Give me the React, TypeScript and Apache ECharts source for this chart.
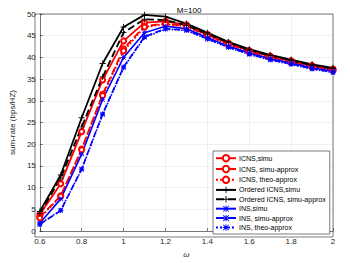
import React, { useEffect, useRef } from "react";
import * as echarts from "echarts";

const omega = [0.6, 0.7, 0.8, 0.9, 1.0, 1.1, 1.2, 1.3, 1.4, 1.5, 1.6, 1.7, 1.8, 1.9, 2.0];

const icnsSimu = [3.8, 10.9, 22.9, 34.8, 43.8, 48.0, 48.3, 47.5, 45.3, 43.3, 41.6, 40.3, 39.2, 38.1, 37.3];
const icnsSimuApprox = [3.2, 8.1, 18.9, 31.5, 42.0, 47.2, 47.8, 47.2, 45.1, 43.1, 41.4, 40.1, 39.0, 37.9, 37.1];
const icnsTheoApprox = [3.0, 8.0, 18.7, 31.2, 41.5, 47.0, 47.7, 47.1, 45.0, 43.0, 41.3, 40.0, 38.9, 37.8, 37.0];
const orderedSimu = [4.5, 12.9, 26.1, 38.6, 47.0, 49.8, 49.4, 47.8, 45.7, 43.6, 41.9, 40.6, 39.5, 38.4, 37.6];
const orderedSimuApprox = [4.0, 12.2, 24.0, 35.5, 45.7, 48.8, 48.6, 47.4, 45.4, 43.4, 41.7, 40.4, 39.3, 38.2, 37.4];
const insSimu = [1.8, 7.4, 17.7, 30.3, 40.0, 45.7, 47.2, 46.6, 44.6, 42.6, 41.0, 39.7, 38.7, 37.6, 36.8];
const insSimuApprox = [1.5, 4.7, 14.3, 27.0, 37.8, 44.8, 46.6, 46.3, 44.3, 42.4, 40.8, 39.5, 38.5, 37.4, 36.6];
const insTheoApprox = [1.6, 4.8, 14.2, 26.8, 37.6, 44.6, 46.5, 46.2, 44.2, 42.3, 40.7, 39.4, 38.4, 37.3, 36.5];

const seriesNames = [
  "ICNS,simu",
  "ICNS, simu-approx",
  "ICNS, theo-approx",
  "Ordered ICNS,simu",
  "Ordered ICNS, simu-approx",
  "INS,simu",
  "INS, simu-approx",
  "INS, theo-approx",
];

const PLUS = "path://M4.3,0h1.4v4.3h4.3v1.4h-4.3v4.3h-1.4v-4.3h-4.3v-1.4h4.3z";
const STAR =
  "path://M4.3,0h1.4v4.3h4.3v1.4h-4.3v4.3h-1.4v-4.3h-4.3v-1.4h4.3z M1.2,0.2L9.8,8.8L8.8,9.8L0.2,1.2Z M8.8,0.2L9.8,1.2L1.2,9.8L0.2,8.8Z";

export default function App() {
  const ref = useRef<HTMLDivElement>(null);
  useEffect(() => {
    if (!ref.current) return;
    const chart = echarts.init(ref.current, undefined, { renderer: "svg" });
    const mk = (
      name: string,
      data: number[],
      color: string,
      type: string,
      symbol: string,
      size: number,
      width: number
    ) => ({
      name,
      type: "line",
      data: omega.map((x, i) => [x, data[i]]),
      symbol,
      symbolSize: size,
      showAllSymbol: true,
      lineStyle: { color, width, type },
      itemStyle: { color, borderColor: color, borderWidth: symbol === "emptyCircle" ? 1.5 : 0 },
    });
    const red = "#ff0000";
    const black = "#000000";
    const blue = "#0000ff";
    const series = [
      mk(seriesNames[0], icnsSimu, red, "solid", "emptyCircle", 5, 1.8),
      mk(seriesNames[1], icnsSimuApprox, red, "dashed", "emptyCircle", 5, 1.8),
      mk(seriesNames[2], icnsTheoApprox, red, "dotted", "emptyCircle", 5, 1.8),
      mk(seriesNames[3], orderedSimu, black, "solid", PLUS, 6, 1.8),
      mk(seriesNames[4], orderedSimuApprox, black, "dashed", PLUS, 6, 1.8),
      mk(seriesNames[5], insSimu, blue, "solid", STAR, 5, 1.6),
      mk(seriesNames[6], insSimuApprox, blue, "dashed", STAR, 5, 1.6),
      mk(seriesNames[7], insTheoApprox, blue, "dotted", STAR, 5, 1.6),
    ];
    const font = "Liberation Sans, Arial, sans-serif";
    chart.setOption({
      animation: false,
      backgroundColor: "#ffffff",
      textStyle: { fontFamily: font },
      title: {
        text: "M=100",
        left: 184,
        top: 1,
        textAlign: "center",
        textStyle: { fontSize: 8, fontWeight: "normal", color: "#000", fontFamily: font },
      },
      grid: { left: 35, right: 17, top: 14, bottom: 26, containLabel: false },
      xAxis: {
        type: "value",
        min: 0.6,
        max: 2,
        interval: 0.2,
        name: "ω",
        nameLocation: "middle",
        nameGap: 19,
        nameTextStyle: { fontSize: 8, fontStyle: "italic", color: "#262626", fontFamily: font },
        axisLine: { show: true, onZero: false, lineStyle: { color: "#262626", width: 0.6 } },
        axisTick: { show: true, inside: true, length: 3, lineStyle: { color: "#262626", width: 0.6 } },
        axisLabel: {
          fontSize: 8,
          color: "#262626",
          margin: 6,
          formatter: (v: number) => String(Math.round(v * 10) / 10),
        },
        splitLine: { show: true, lineStyle: { color: "#e6e6e6", width: 0.6 } },
      },
      yAxis: {
        type: "value",
        min: 0,
        max: 50,
        interval: 5,
        name: "sum-rate (bps/HZ)",
        nameLocation: "middle",
        nameGap: 19,
        nameTextStyle: { fontSize: 8, color: "#262626", fontFamily: font },
        axisLine: { show: true, lineStyle: { color: "#262626", width: 0.6 } },
        axisTick: { show: true, inside: true, length: 3, lineStyle: { color: "#262626", width: 0.6 } },
        axisLabel: { fontSize: 8, color: "#262626", margin: 4 },
        splitLine: { show: true, lineStyle: { color: "#e6e6e6", width: 0.6 } },
      },
      legend: {
        orient: "vertical",
        left: 213,
        top: 151,
        width: 119,
        padding: [3, 4, 3, 2],
        itemGap: 2.4,
        itemWidth: 20,
        itemHeight: 8,
        backgroundColor: "#ffffff",
        borderColor: "#262626",
        borderWidth: 0.6,
        borderRadius: 0,
        textStyle: { fontSize: 7, color: "#000", fontFamily: font, padding: [0, 0, 0, -2] },
        data: seriesNames,
      },
      graphic: [
        {
          type: "rect",
          shape: { x: 35, y: 14, width: 298, height: 223 },
          style: { fill: "none", stroke: "#262626", lineWidth: 0.6 },
          silent: true,
          z: 1,
        },
      ],
      series,
    });
    return () => chart.dispose();
  }, []);
  return <div ref={ref} style={{ width: 350, height: 263, marginLeft: -8, marginTop: -8 }} />;
}
